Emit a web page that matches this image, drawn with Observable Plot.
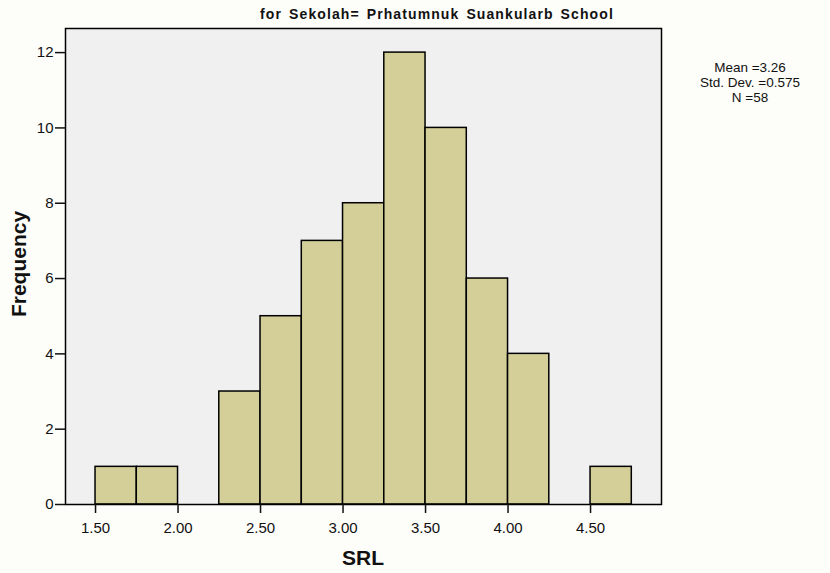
<!DOCTYPE html>
<html>
<head>
<meta charset="utf-8">
<script src="https://cdn.jsdelivr.net/npm/d3@7"></script>
<script src="https://cdn.jsdelivr.net/npm/@observablehq/plot@0.6"></script>
<style>
  html, body { margin: 0; padding: 0; background: #fdfdf9; }
  #chart { width: 830px; height: 573px; }
  svg { font-family: "Liberation Sans", Arial, sans-serif; }
</style>
</head>
<body>
<div id="chart"></div>
<script>
const binStarts = [1.50, 1.75, 2.00, 2.25, 2.50, 2.75, 3.00, 3.25, 3.50, 3.75, 4.00, 4.25, 4.50];
const binWidth = 0.25;
const counts = [1, 1, 0, 3, 5, 7, 8, 12, 10, 6, 4, 0, 1];
const xTicks = [1.5, 2.0, 2.5, 3.0, 3.5, 4.0, 4.5];
const yTicks = [0, 2, 4, 6, 8, 10, 12];
const titleText = "for Sekolah= Prhatumnuk Suankularb School";
const statsLines = ["Mean =3.26", "Std. Dev. =0.575", "N =58"];

const bins = binStarts.map((s, i) => ({x1: s, x2: s + binWidth, count: counts[i]})).filter(d => d.count > 0);

const chart = Plot.plot({
  width: 830,
  height: 573,
  marginLeft: 65,
  marginRight: 169,
  marginTop: 28,
  marginBottom: 69,
  style: {background: "transparent", fontFamily: "Liberation Sans, Arial, sans-serif", fontSize: "15px", color: "#111"},
  x: {domain: [1.318, 4.93], ticks: xTicks, tickFormat: d3.format(".2f"), label: null},
  y: {domain: [0, 12.64], ticks: yTicks, label: null},
  marks: [
    Plot.frame({fill: "#f0f0f0"}),
    Plot.rectY(bins, {x1: "x1", x2: "x2", y1: 0, y2: "count", fill: "#d4cf98", stroke: "#000", strokeWidth: 1.5}),
    Plot.frame({stroke: "#000", strokeWidth: 1.5}),
    Plot.axisX({ticks: xTicks, tickFormat: d3.format(".2f"), tickSize: 9, tickPadding: 9, fontSize: 15, strokeWidth: 1.5, label: null}),
    Plot.axisY({ticks: yTicks, tickSize: 10, tickPadding: 2, fontSize: 15, strokeWidth: 1.5, label: null})
  ]
});

const svg = d3.select(chart);
svg.selectAll('g[aria-label="x-axis tick label"], g[aria-label="y-axis tick label"]')
  .attr("font-size", 15)
  .selectAll("text").attr("font-size", 15);
svg.append("text")
  .attr("x", 437).attr("y", 19)
  .attr("text-anchor", "middle")
  .attr("font-weight", "bold").attr("font-size", 14)
  .attr("letter-spacing", 1.1).attr("word-spacing", 2)
  .text(titleText);
svg.append("text")
  .attr("transform", "translate(26,264) rotate(-90)")
  .attr("text-anchor", "middle")
  .attr("font-weight", "bold").attr("font-size", 21)
  .text("Frequency");
svg.append("text")
  .attr("x", 363).attr("y", 565)
  .attr("text-anchor", "middle")
  .attr("font-weight", "bold").attr("font-size", 21)
  .text("SRL");
statsLines.forEach((t, i) => {
  svg.append("text")
    .attr("x", 750).attr("y", 72 + i * 15)
    .attr("text-anchor", "middle")
    .attr("font-size", 13.5)
    .text(t);
});

document.getElementById("chart").appendChild(chart);
</script>
</body>
</html>
